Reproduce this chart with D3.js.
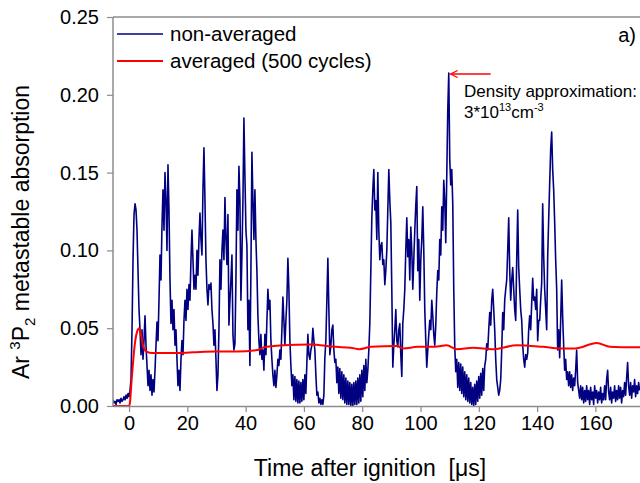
<!DOCTYPE html>
<html>
<head>
<meta charset="utf-8">
<script src="https://cdn.jsdelivr.net/npm/d3@7"></script>
<style>
  html, body { margin: 0; padding: 0; background: #fff; }
  svg { display: block; }
  text { font-family: "Liberation Sans", Arial, Helvetica, sans-serif; fill: #000; }
</style>
</head>
<body>
<svg id="chart" width="640" height="483"></svg>
<script>
// ---------- data ----------
// non-averaged trace: uniformly sampled signal (µs), values read from the picture
const firstSampleTime = -5.49;
const sampleInterval = 0.3428;
const nonAveraged = [
0.004,0.002,0.003,0.001,0.004,0.003,0.004,0.002,0.005,0.003,0.004,0.006,0.004,0.007,0.005,0.008,0.006,0.010,
0.017,0.049,0.094,0.123,0.130,0.126,0.113,0.087,0.062,0.049,0.033,0.049,0.030,0.042,0.058,0.039,0.026,0.013,
0.023,0.010,0.020,0.007,0.017,0.009,0.023,0.039,0.054,0.042,0.068,0.097,0.081,0.116,0.139,0.113,0.150,0.132,
0.100,0.155,0.126,0.081,0.053,0.068,0.049,0.062,0.039,0.049,0.030,0.013,0.023,0.010,0.030,0.042,0.033,0.055,
0.068,0.055,0.075,0.062,0.078,0.068,0.094,0.113,0.094,0.075,0.084,0.075,0.100,0.084,0.107,0.124,0.107,0.097,
0.139,0.166,0.132,0.094,0.075,0.065,0.078,0.075,0.079,0.062,0.053,0.039,0.049,0.030,0.010,0.020,0.049,0.094,
0.075,0.100,0.113,0.094,0.134,0.107,0.091,0.123,0.052,0.068,0.081,0.097,0.046,0.036,0.040,0.081,0.139,0.113,
0.154,0.132,0.068,0.097,0.132,0.185,0.148,0.113,0.103,0.049,0.068,0.026,0.087,0.163,0.132,0.107,0.139,0.107,
0.087,0.058,0.042,0.033,0.046,0.030,0.036,0.023,0.046,0.033,0.055,0.075,0.062,0.068,0.042,0.030,0.020,0.013,
0.023,0.012,0.020,0.030,0.026,0.036,0.030,0.049,0.070,0.055,0.039,0.055,0.068,0.095,0.075,0.042,0.026,0.013,
0.020,0.004,0.019,0.003,0.017,0.002,0.016,0.002,0.015,0.003,0.017,0.004,0.020,0.008,0.028,0.046,0.033,0.030,
0.036,0.039,0.050,0.042,0.036,0.020,0.007,0.009,0.002,0.005,0.001,0.004,0.001,0.007,0.031,0.042,0.068,0.095,
0.062,0.033,0.039,0.049,0.052,0.036,0.028,0.030,0.015,0.025,0.008,0.024,0.005,0.022,0.004,0.020,0.002,0.018,
0.001,0.016,0.001,0.015,0.000,0.014,0.000,0.015,0.001,0.016,0.001,0.018,0.002,0.020,0.003,0.023,0.006,0.026,
0.010,0.030,0.015,0.023,0.036,0.053,0.087,0.121,0.139,0.152,0.126,0.132,0.107,0.150,0.113,0.094,0.103,0.105,
0.091,0.094,0.078,0.087,0.100,0.126,0.152,0.132,0.118,0.075,0.025,0.039,0.049,0.062,0.042,0.038,0.049,0.053,
0.033,0.019,0.053,0.062,0.075,0.100,0.121,0.096,0.107,0.081,0.115,0.100,0.075,0.094,0.113,0.129,0.141,0.087,
0.107,0.068,0.094,0.107,0.128,0.100,0.062,0.042,0.025,0.036,0.046,0.055,0.049,0.068,0.058,0.046,0.039,0.052,
0.073,0.087,0.081,0.107,0.097,0.128,0.113,0.145,0.132,0.105,0.148,0.190,0.214,0.158,0.142,0.152,0.130,0.075,
0.038,0.022,0.030,0.012,0.028,0.010,0.027,0.008,0.025,0.006,0.022,0.004,0.020,0.003,0.018,0.002,0.015,0.001,
0.012,0.000,0.014,0.001,0.016,0.003,0.019,0.005,0.021,0.007,0.024,0.010,0.026,0.030,0.040,0.036,0.049,0.060,
0.052,0.068,0.075,0.062,0.049,0.030,0.017,0.012,0.007,0.010,0.017,0.036,0.060,0.049,0.068,0.075,0.081,0.100,
0.121,0.087,0.068,0.081,0.089,0.075,0.062,0.055,0.094,0.126,0.089,0.075,0.062,0.055,0.039,0.030,0.025,0.033,
0.030,0.034,0.049,0.058,0.049,0.066,0.082,0.068,0.070,0.062,0.075,0.042,0.055,0.055,0.068,0.079,0.130,0.096,
0.075,0.062,0.049,0.096,0.120,0.143,0.165,0.176,0.152,0.139,0.118,0.094,0.075,0.036,0.049,0.031,0.055,0.081,
0.057,0.039,0.023,0.030,0.017,0.022,0.013,0.022,0.012,0.020,0.010,0.018,0.013,0.023,0.036,0.015,0.010,0.005,
0.013,0.004,0.012,0.002,0.010,0.003,0.013,0.004,0.010,0.001,0.012,0.004,0.009,0.001,0.013,0.005,0.010,0.002,
0.009,0.004,0.012,0.002,0.008,0.004,0.013,0.004,0.017,0.023,0.009,0.004,0.012,0.002,0.009,0.005,0.013,0.003,
0.010,0.004,0.013,0.005,0.012,0.002,0.010,0.006,0.015,0.007,0.018,0.028,0.013,0.007,0.015,0.005,0.013,0.009,
0.017,0.006,0.013,0.008,0.015,0.010
];
// averaged (500 cycles)
const averagedTime = [-5.5, 0, 0.3, 0.9, 2, 3, 3.5, 4.2, 4.9, 6, 8, 15, 22, 29.5, 37, 44, 46, 53, 62, 71, 76, 79, 83, 92, 94, 99, 105, 109, 112.5, 118, 125, 133, 142, 148, 153, 160.5, 165, 170, 175.3];
const averagedValue = [0, 0, 0.002, 0.017, 0.040, 0.049, 0.050, 0.045, 0.038, 0.035, 0.034, 0.034, 0.0345, 0.035, 0.035, 0.036, 0.0375, 0.039, 0.0395, 0.038, 0.0375, 0.0365, 0.038, 0.0385, 0.037, 0.038, 0.038, 0.039, 0.0365, 0.0375, 0.0365, 0.039, 0.038, 0.037, 0.037, 0.0405, 0.038, 0.0378, 0.0377];

const xTicks = [0, 20, 40, 60, 80, 100, 120, 140, 160];
const yTicks = [0.00, 0.05, 0.10, 0.15, 0.20, 0.25];
const xDomain = [-5.5, 175.3];
const yDomain = [0, 0.25];
const seriesNames = ["non-averaged", "averaged (500 cycles)"];
const peakTime = 109.3, peakValue = 0.214;

// ---------- drawing ----------
(function () {
const svg = d3.select("#chart");
const pL = 113, pR = 640, pT = 17, pB = 406;
const x = d3.scaleLinear().domain(xDomain).range([pL, pR]);
const y = d3.scaleLinear().domain(yDomain).range([pB, pT]);
const frameColor = "#8c8c8c";
const font = '"Liberation Sans", Arial, Helvetica, sans-serif';

svg.append("defs").append("clipPath").attr("id", "plotclip")
  .append("rect").attr("x", pL).attr("y", pT).attr("width", pR - pL).attr("height", pB - pT + 1);

const blueData = nonAveraged.map((v, i) => ({ t: firstSampleTime + i * sampleInterval, v }));
const redData = averagedTime.map((t, i) => ({ t, v: averagedValue[i] }));

const line = d3.line().x(d => x(d.t)).y(d => y(d.v));

const plot = svg.append("g").attr("clip-path", "url(#plotclip)");
plot.append("path").datum(blueData).attr("d", line)
  .attr("fill", "none").attr("stroke", "#000080").attr("stroke-width", 1.6).attr("stroke-linejoin", "round");
plot.append("path").datum(redData).attr("d", d3.line().curve(d3.curveMonotoneX).x(d => x(d.t)).y(d => y(d.v)))
  .attr("fill", "none").attr("stroke", "#ff0000").attr("stroke-width", 2);

// axes
const xAxis = svg.append("g").attr("transform", `translate(0,${pB})`)
  .call(d3.axisBottom(x).tickValues(xTicks).tickFormat(d3.format("d")).tickSize(6).tickPadding(4).tickSizeOuter(0));
const yAxis = svg.append("g").attr("transform", `translate(${pL},0)`)
  .call(d3.axisLeft(y).tickValues(yTicks).tickFormat(d3.format(".2f")).tickSize(6).tickPadding(8).tickSizeOuter(0));
[xAxis, yAxis].forEach(g => {
  g.select(".domain").attr("stroke", frameColor).attr("stroke-width", 1.5);
  g.selectAll(".tick line").attr("stroke", frameColor).attr("stroke-width", 1.2);
  g.selectAll(".tick text").attr("font-size", 20).attr("font-family", font).attr("fill", "#000");
});
svg.append("line").attr("x1", pL).attr("x2", pR).attr("y1", pT).attr("y2", pT)
  .attr("stroke", frameColor).attr("stroke-width", 1.5);
yAxis.select(".domain").attr("d", `M0,${pT}V${pB}`);

// axis titles
svg.append("text").attr("x", 370).attr("y", 476).attr("text-anchor", "middle")
  .attr("font-size", 23).style("white-space", "pre").text("Time after ignition  [\u03bcs]");

const yt = svg.append("text").attr("transform", `translate(29,232) rotate(-90)`)
  .attr("text-anchor", "middle").attr("font-size", 23);
yt.append("tspan").text("Ar ");
yt.append("tspan").attr("font-size", 15).attr("dy", -9).text("3");
yt.append("tspan").attr("dy", 9).text("P");
yt.append("tspan").attr("font-size", 15).attr("dy", 6).text("2");
yt.append("tspan").attr("dy", -6).text(" metastable absorption");

// legend
const legendItems = [{ name: seriesNames[0], color: "#000080", w: 1.4 }, { name: seriesNames[1], color: "#ff0000", w: 2 }];
const lg = svg.append("g");
legendItems.forEach((d, i) => {
  const cy = 34 + i * 27;
  lg.append("line").attr("x1", 117).attr("x2", 163).attr("y1", cy).attr("y2", cy)
    .attr("stroke", d.color).attr("stroke-width", d.w);
  lg.append("text").attr("x", 170).attr("y", cy + 7).attr("font-size", 20.5).text(d.name);
});

svg.append("text").attr("x", 636).attr("y", 42).attr("text-anchor", "end").attr("font-size", 20).text("a)");

// annotation arrow
const ax0 = x(peakTime) + 3, ay = y(peakValue) + 1;
svg.append("line").attr("x1", ax0).attr("x2", ax0 + 40).attr("y1", ay).attr("y2", ay)
  .attr("stroke", "#ff0000").attr("stroke-width", 1.3);
svg.append("path").attr("d", `M${ax0 + 7},${ay - 3.5}L${ax0},${ay}L${ax0 + 7},${ay + 3.5}`)
  .attr("fill", "none").attr("stroke", "#ff0000").attr("stroke-width", 1.3);

const ann = svg.append("g");
ann.append("text").attr("x", 464).attr("y", 97).attr("font-size", 17).text("Density approximation:");
const a2 = ann.append("text").attr("x", 464).attr("y", 118).attr("font-size", 17);
a2.append("tspan").text("3*10");
a2.append("tspan").attr("font-size", 11).attr("dy", -7).text("13");
a2.append("tspan").attr("dy", 7).text("cm");
a2.append("tspan").attr("font-size", 11).attr("dy", -7).text("-3");
})();
</script>
</body>
</html>
